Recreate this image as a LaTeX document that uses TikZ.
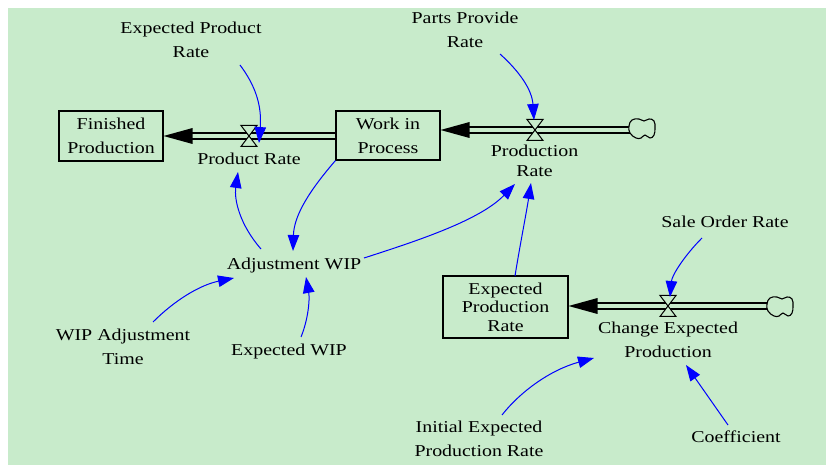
\documentclass[tikz,border=0pt]{standalone}
\usepackage{fontspec}
\setmainfont{Liberation Serif}[FakeStretch=1.2]
\usetikzlibrary{arrows.meta}
\definecolor{bg}{RGB}{200,235,203}
\definecolor{linkblue}{RGB}{0,0,255}
\begin{document}
\begin{tikzpicture}[x=1pt, y=-1pt,
  font=\fontsize{16.6}{24}\selectfont,
  lbl/.style={align=center, inner sep=0pt},
  stock/.style={draw=black, line width=1.1pt, minimum width=104pt, minimum height=50pt, align=center, inner sep=0pt},
  pipe/.style={draw=black, line width=1.2pt, double=bg, double distance=4.8pt},
  valve/.style={draw=black, line width=1pt, fill=bg},
  cloudline/.style={draw=black, line width=1.1pt, fill=bg},
  flowhead/.style={fill=black},
  link/.style={draw=linkblue, line width=1pt, -{Triangle[length=16pt,width=11.5pt]}}
]
% canvas
\useasboundingbox (0,0) rectangle (831,465);
\fill[bg] (8,8) rectangle (826,465);

% stocks
\node[stock] (fp) at (111,136) {Finished\\Production};
\node[stock, minimum height=49pt] (wip) at (388,135.5) {Work in\\Process};
\node[stock, minimum width=125pt, minimum height=62pt, font=\fontsize{16.6}{18.5}\selectfont] (eprb) at (505.5,307) {Expected\\Production\\Rate};

% valves and sources
\coordinate (vpr) at (249,136);
\coordinate (vprd) at (535,130);
\coordinate (vcep) at (668,306);
\coordinate (cl1) at (642,129);
\coordinate (cl2) at (780,307);
\coordinate (wipin) at (wip.east |- vprd);
\coordinate (eprin) at (eprb.east |- vcep);

% pipes
\draw[pipe] (wip.west |- vpr) -- ([xshift=28pt]fp.east);
\draw[pipe] ([xshift=-12pt]cl1 |- vprd) -- ([xshift=28pt]wipin);
\draw[pipe] ([xshift=-12pt]cl2 |- vcep) -- ([xshift=28pt]eprin);

% flow heads
\fill[flowhead] (fp.east) -- ++(29,-8) -- ++(0,16) -- cycle;
\fill[flowhead] (wipin) -- ++(29,-8) -- ++(0,16) -- cycle;
\fill[flowhead] (eprin) -- ++(29,-8) -- ++(0,16) -- cycle;

% valves
\foreach \v in {vpr, vprd, vcep}
  \draw[valve, shift={(\v)}] (-8,-10.5) -- (8,-10.5) -- (-8,10.5) -- (8,10.5) -- cycle;

% clouds
\foreach \c in {cl1, cl2}
  \draw[cloudline, shift={(\c)}] plot[smooth cycle, tension=0.75] coordinates
    {(-13,-3) (-10,-9) (-3,-10) (2,-8) (7,-10) (12,-8) (13,-1) (12,6) (8,9) (3,6) (-1,9) (-6,9) (-12,4)};

% labels
\node[lbl] (epr) at (191,40) {Expected Product\\Rate};
\node[lbl] (ppr) at (465,30) {Parts Provide\\Rate};
\node[lbl] (prl) at (249,159) {Product Rate};
\node[lbl, font=\fontsize{16.6}{20}\selectfont] (prdl) at (534.5,161) {Production\\Rate};
\node[lbl] (adj) at (294,266) {Adjustment WIP};
\node[lbl] (wat) at (123,347) {WIP Adjustment\\Time};
\node[lbl] (ewip) at (289,352) {Expected WIP};
\node[lbl] (sor) at (725,222) {Sale Order Rate};
\node[lbl] (cepl) at (668,340) {Change Expected\\Production};
\node[lbl] (iepr) at (479,439) {Initial Expected\\Production Rate};
\node[lbl] (coef) at (736,437) {Coefficient};

% link end points
\coordinate (epr-o) at (240,65);
\coordinate (pr-i) at (259,143);
\coordinate (ppr-o) at (500,54);
\coordinate (prd-i) at (534,120);
\coordinate (wip-o) at (wip.south west);
\coordinate (adj-i) at (293,251);
\coordinate (adj-o1) at (261,249);
\coordinate (prl-i) at (238,172);
\coordinate (adj-o2) at (364,258);
\coordinate (prdl-i1) at (515,184);
\coordinate (eprb-o) at (515,276);
\coordinate (prdl-i2) at (531,183);
\coordinate (wat-o) at (153,322);
\coordinate (adj-i2) at (234,278);
\coordinate (ewip-o) at (301,337);
\coordinate (adj-i3) at (306,277);
\coordinate (sor-o) at (702,238);
\coordinate (cep-i) at (670,297);
\coordinate (iepr-o) at (502,415);
\coordinate (cepl-i1) at (594,358);
\coordinate (coef-o) at (728,425);
\coordinate (cepl-i2) at (686,365);

% information links
\draw[link] (epr-o) .. controls (255,85) and (262,105) .. (pr-i);
\draw[link] (ppr-o) .. controls (520,72) and (532,90) .. (prd-i);
\draw[link] (wip-o) .. controls (310,190) and (294,215) .. (adj-i);
\draw[link] (adj-o1) .. controls (240,225) and (234,200) .. (prl-i);
\draw[link] (adj-o2) .. controls (420,240) and (480,220) .. (prdl-i1);
\draw[link] (eprb-o) .. controls (520,245) and (526,215) .. (prdl-i2);
\draw[link] (wat-o) .. controls (175,300) and (200,285) .. (adj-i2);
\draw[link] (ewip-o) .. controls (308,320) and (310,300) .. (adj-i3);
\draw[link] (sor-o) .. controls (685,255) and (672,275) .. (cep-i);
\draw[link] (iepr-o) .. controls (520,392) and (550,370) .. (cepl-i1);
\draw[link] (coef-o) -- (cepl-i2);
\end{tikzpicture}
\end{document}
